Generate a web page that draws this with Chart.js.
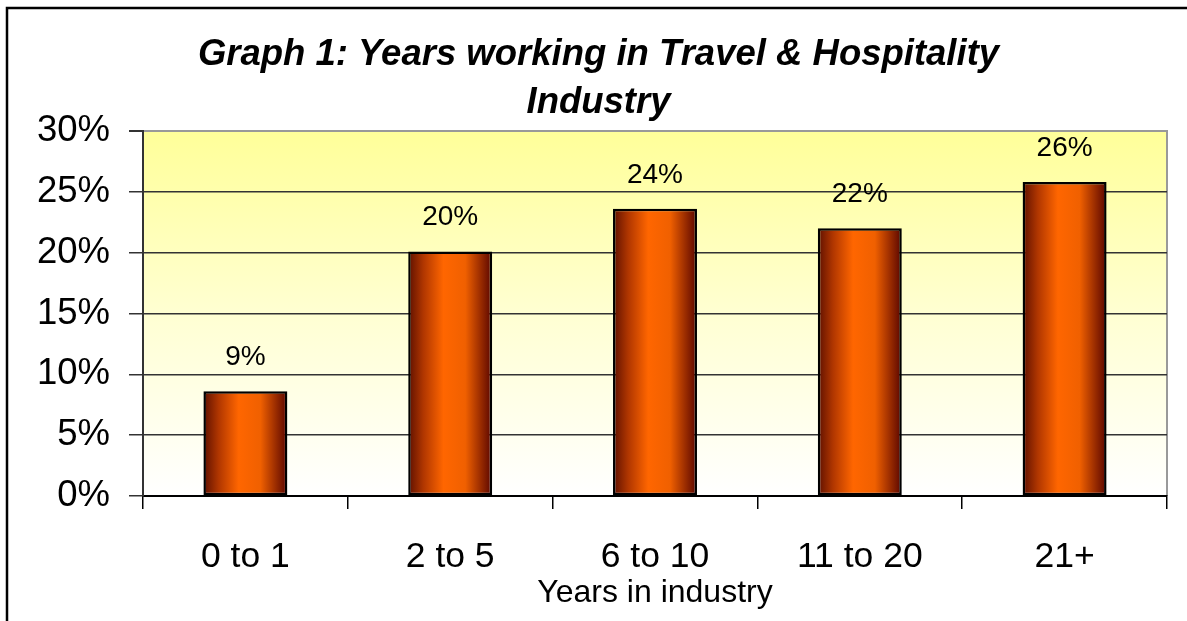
<!DOCTYPE html>
<html>
<head>
<meta charset="utf-8">
<script src="https://cdn.jsdelivr.net/npm/chart.js@4.4.1/dist/chart.umd.min.js"></script>
<style>
  html, body { margin: 0; padding: 0; background: #fff; }
  #wrap { width: 1187px; height: 621px; position: relative; }
</style>
</head>
<body>
<div id="wrap"><canvas id="yearsChart" width="1187" height="621"></canvas></div>
<script>
// data
const categories = ['0 to 1', '2 to 5', '6 to 10', '11 to 20', '21+'];
const shares = [8.6, 20.1, 23.6, 22.0, 25.8];
const yTicks = [0, 5, 10, 15, 20, 25, 30];

const FONT = "'Liberation Sans', Arial, sans-serif";

// white page + outer frame + yellow plot background
const frameAndBackground = {
    id: 'frameAndBackground',
    beforeDraw(chart) {
        const ctx = chart.ctx;
        const a = chart.chartArea;
        ctx.save();
        ctx.fillStyle = '#fff';
        ctx.fillRect(0, 0, chart.width, chart.height);

        ctx.strokeStyle = '#000';
        ctx.lineWidth = 2.5;
        ctx.strokeRect(7, 8, chart.width + 50, chart.height + 50);

        const g = ctx.createLinearGradient(0, a.top, 0, a.bottom);
        g.addColorStop(0, '#ffff99');
        g.addColorStop(0.5, '#ffffd2');
        g.addColorStop(1, '#ffffff');
        ctx.fillStyle = g;
        ctx.fillRect(a.left, a.top, a.right - a.left, a.bottom - a.top);

        ctx.strokeStyle = '#999';
        ctx.lineWidth = 2;
        ctx.beginPath();
        ctx.moveTo(a.left, a.top);
        ctx.lineTo(a.right, a.top);
        ctx.lineTo(a.right, a.bottom);
        ctx.stroke();
        ctx.restore();
    }
};

// percent labels above each bar
const barLabels = {
    id: 'barLabels',
    afterDatasetsDraw(chart) {
        const ctx = chart.ctx;
        const meta = chart.getDatasetMeta(0);
        ctx.save();
        ctx.font = '28px ' + FONT;
        ctx.fillStyle = '#000';
        ctx.textAlign = 'center';
        ctx.textBaseline = 'middle';
        meta.data.forEach((bar, i) => {
            ctx.fillText(Math.round(shares[i]) + '%', bar.x, bar.y - 34);
        });
        ctx.restore();
    }
};

const barPct = 0.41;

function barGradient(context) {
    const chart = context.chart;
    const x = chart.scales.x;
    if (!chart.chartArea || !x) return '#ff6600';
    const cw = (x.right - x.left) / categories.length;
    const cx = x.getPixelForValue(context.dataIndex);
    const half = cw * barPct / 2;
    const g = chart.ctx.createLinearGradient(cx - half, 0, cx + half, 0);
    g.addColorStop(0, '#5e1000');
    g.addColorStop(0.18, '#b03600');
    g.addColorStop(0.42, '#ff6600');
    g.addColorStop(0.68, '#f06000');
    g.addColorStop(1, '#5a0500');
    return g;
}

const ctx = document.getElementById('yearsChart').getContext('2d');
const yearsChart = new Chart(ctx, {
    type: 'bar',
    data: {
        labels: categories,
        datasets: [{
            data: shares,
            backgroundColor: barGradient,
            borderColor: '#000',
            borderWidth: 2.5,
            borderSkipped: false,
            barPercentage: barPct,
            categoryPercentage: 1
        }]
    },
    plugins: [frameAndBackground, barLabels],
    options: {
        responsive: false,
        animation: false,
        layout: {
            padding: { left: 30, right: 20, top: 0, bottom: 0 }
        },
        plugins: {
            legend: { display: false },
            tooltip: { enabled: false },
            title: {
                display: true,
                text: ['Graph 1: Years working in Travel & Hospitality', 'Industry'],
                color: '#000',
                font: { family: FONT, size: 36.5, weight: 'bold', style: 'italic', lineHeight: '48px' },
                padding: { top: 31, bottom: 4 }
            }
        },
        scales: {
            x: {
                afterFit(scale) { scale.height = 125; },
                grid: {
                    offset: true,
                    drawOnChartArea: false,
                    drawTicks: true,
                    tickLength: 13,
                    color: '#000',
                    lineWidth: 1.5
                },
                border: { color: '#000', width: 2 },
                ticks: {
                    color: '#000',
                    font: { family: FONT, size: 35.5 },
                    padding: 27,
                    maxRotation: 0
                },
                title: {
                    display: true,
                    text: 'Years in industry',
                    color: '#000',
                    font: { family: FONT, size: 32 },
                    padding: { top: 0, bottom: 9 }
                }
            },
            y: {
                min: 0,
                max: 30,
                afterFit(scale) { scale.width = 113; },
                afterBuildTicks(scale) {
                    scale.ticks = yTicks.map(v => ({ value: v }));
                },
                grid: {
                    color: ctx => (ctx.tick && ctx.tick.value === 30) ? '#999' : '#333',
                    lineWidth: ctx => (ctx.tick && ctx.tick.value === 30) ? 2 : 1.5,
                    tickColor: '#333',
                    tickLength: 14,
                    drawTicks: true
                },
                border: { color: '#333', width: 2 },
                ticks: {
                    color: '#000',
                    font: { family: FONT, size: 36.5 },
                    padding: 19,
                    callback: v => v + '%'
                }
            }
        }
    }
});
</script>
</body>
</html>
